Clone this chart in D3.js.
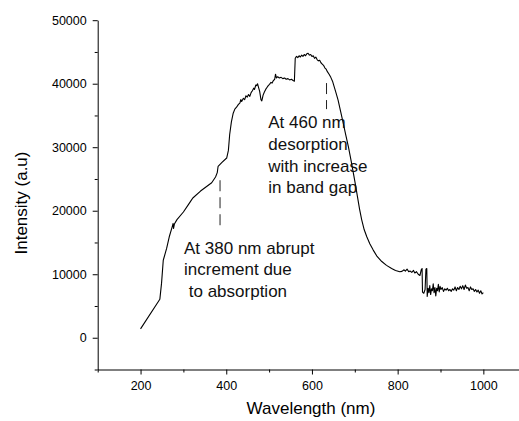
<!DOCTYPE html>
<html>
<head>
<meta charset="utf-8">
<script src="https://cdn.jsdelivr.net/npm/d3@7"></script>
<style>
  body { margin: 0; background: #fff; }
  svg { display: block; font-family: Arial, "Liberation Sans", sans-serif; }
  .axis text { font-size: 12.5px; fill: #000; }
  .axis path, .axis line { stroke: #000; }
  .note { font-size: 17px; fill: #111; white-space: pre; }
  .title { font-size: 17px; fill: #000; }
</style>
</head>
<body>
<svg id="chart" width="519" height="421"></svg>
<script>
// spectrum
var wavelength = [200, 245, 249, 253, 261, 267, 274, 276, 277, 279, 285, 300, 312, 319, 322, 340, 366, 375, 379, 381, 390, 401, 405, 408, 412, 416, 420, 424, 428, 432, 434, 436, 440, 443, 446, 449, 452, 455, 458, 461, 464, 466, 469, 471, 473, 475, 478, 481, 483, 486, 489, 492, 495, 498, 501, 504, 507, 510, 513, 515, 517, 520, 524, 528, 532, 536, 540, 544, 548, 552, 556, 559, 561, 564, 567, 570, 573, 576, 579, 582, 585, 588, 591, 594, 597, 600, 603, 606, 609, 612, 615, 618, 621, 624, 627, 630, 633, 636, 640, 644, 648, 652, 656, 661, 667, 673, 679, 685, 691, 697, 702, 706, 711, 716, 722, 728, 735, 743, 752, 763, 774, 786, 795, 805, 810, 815, 818, 822, 826, 829, 833, 837, 840, 844, 848, 852, 855, 857, 858, 861, 864, 866, 868, 869, 871, 873, 875, 877, 879, 881, 883, 885, 887, 889, 891, 893, 895, 897, 899, 901, 904, 907, 910, 913, 916, 919, 922, 925, 928, 931, 934, 937, 940, 943, 946, 949, 952, 955, 958, 961, 964, 967, 970, 973, 976, 979, 982, 985, 988, 991, 994, 997, 1000];
var intensity = [1400, 6050, 8600, 12200, 14100, 15900, 17500, 18000, 17200, 17900, 18600, 19800, 21000, 21700, 22000, 23100, 24400, 25300, 26000, 27000, 27600, 28300, 29500, 32000, 34000, 35300, 36000, 36300, 36700, 37000, 37500, 37200, 37700, 37500, 38100, 37900, 38300, 38000, 38600, 38900, 39300, 39100, 39800, 39700, 40000, 39500, 38800, 37500, 37300, 38200, 38700, 39100, 39400, 39700, 39900, 40200, 40100, 40500, 40700, 41500, 40900, 41100, 40900, 41000, 40800, 40900, 40700, 40800, 40600, 40700, 40500, 40400, 44000, 44300, 44100, 44400, 44200, 44500, 44300, 44600, 44400, 44700, 44800, 44500, 44600, 44300, 44400, 44000, 44200, 43800, 43600, 43700, 43300, 43100, 42900, 42500, 42300, 41900, 41500, 41000, 40400, 39500, 38600, 37400, 35600, 33800, 31900, 30100, 28000, 25800, 23900, 22300, 20300, 18600, 17000, 15900, 14800, 13800, 12800, 12000, 11400, 10900, 10600, 10400, 10450, 10700, 10500, 10800, 10400, 10500, 10300, 10600, 10200, 10400, 10000, 9800, 10700, 10900, 7200, 7000, 7600, 10800, 10900, 6500, 7800, 7100, 8200, 6800, 7700, 7400, 8500, 7100, 7900, 6600, 7800, 7400, 8400, 7200, 8100, 7600, 7900, 7300, 7700, 7500, 7800, 7400, 7600, 7300, 7700, 7500, 8000, 7400, 7900, 7600, 8100, 7700, 8200, 7600, 8300, 7800, 7900, 7400, 8000, 7600, 7700, 7300, 7600, 7200, 7500, 7000, 7400, 6900, 7100];

var xMajor = [200, 400, 600, 800, 1000];
var xMinor = [100, 300, 500, 700, 900, 1100];
var yMajor = [0, 10000, 20000, 30000, 40000, 50000];
var yMinor = [-5000, 5000, 15000, 25000, 35000, 45000];

// annotations: dash line (wavelength, from, to) and text anchor
var noteWl = [385.5, 634];
var noteFrom = [24800, 40100];
var noteTo = [17400, 36000];
var noteTextWl = [301.5, 498];
var noteTextTop = [13250, 33000];
var noteLines = [
  ["At 380 nm abrupt", "increment due", " to absorption"],
  ["At 460 nm", "desorption", "with increase", "in band gap"]
];

var svg = d3.select("#chart");

var x = d3.scaleLinear().domain([100, 1100]).range([97.7, 526.2]);
var y = d3.scaleLinear().domain([-5000, 50000]).range([369.5, 20.2]);

// axes
svg.append("g")
    .attr("class", "axis")
    .attr("transform", "translate(0," + y(-5000) + ")")
    .call(d3.axisBottom(x).tickValues(xMajor).tickSize(5).tickSizeOuter(0).tickPadding(7).tickFormat(d3.format("d")));
svg.append("g")
    .attr("class", "axis")
    .attr("transform", "translate(0," + y(-5000) + ")")
    .call(d3.axisBottom(x).tickValues(xMinor).tickSize(3).tickFormat(""))
    .select(".domain").remove();

svg.append("g")
    .attr("class", "axis")
    .attr("transform", "translate(" + x(100) + ",0)")
    .call(d3.axisLeft(y).tickValues(yMajor).tickSize(5).tickSizeOuter(0).tickPadding(6).tickFormat(d3.format("d")));
svg.append("g")
    .attr("class", "axis")
    .attr("transform", "translate(" + x(100) + ",0)")
    .call(d3.axisLeft(y).tickValues(yMinor).tickSize(3).tickFormat(""))
    .select(".domain").remove();

// axis titles
svg.append("text")
    .attr("class", "title")
    .attr("text-anchor", "middle")
    .attr("transform", "translate(27,203) rotate(-90)")
    .text("Intensity (a.u)");
svg.append("text")
    .attr("class", "title")
    .attr("text-anchor", "middle")
    .attr("x", 311)
    .attr("y", 414)
    .text("Wavelength (nm)");

// spectrum
var line = d3.line()
    .x(function(d, i) { return x(wavelength[i]); })
    .y(function(d) { return y(d); });

svg.append("path")
    .datum(intensity)
    .attr("fill", "none")
    .attr("stroke", "#000")
    .attr("stroke-width", 1.1)
    .attr("stroke-linejoin", "round")
    .attr("d", line);

// notes
noteWl.forEach(function(w, i) {
  svg.append("line")
      .attr("x1", x(w)).attr("x2", x(w))
      .attr("y1", y(noteFrom[i])).attr("y2", y(noteTo[i]))
      .attr("stroke", "#222")
      .attr("stroke-width", 1)
      .attr("stroke-dasharray", "11,6");

  var t = svg.append("text")
      .attr("class", "note")
      .attr("xml:space", "preserve")
      .attr("x", x(noteTextWl[i]))
      .attr("y", y(noteTextTop[i]));
  noteLines[i].forEach(function(s, j) {
    t.append("tspan")
        .attr("x", x(noteTextWl[i]))
        .attr("dy", j == 0 ? 0 : 21.7)
        .text(s);
  });
});
</script>
</body>
</html>
